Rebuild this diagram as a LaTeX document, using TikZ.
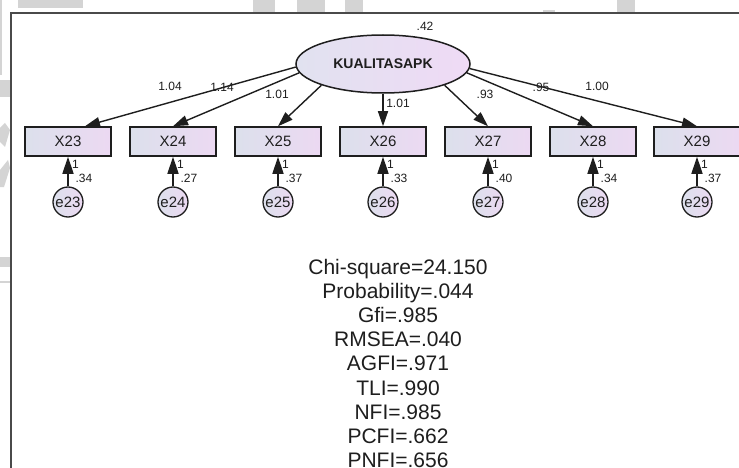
\documentclass[tikz,border=0pt]{standalone}
\usepackage{fontspec}
\setmainfont{Liberation Sans}
\usetikzlibrary{arrows.meta,shapes.geometric}
\definecolor{inkc}{HTML}{1E1E1E}
\definecolor{framec}{HTML}{4A4A4A}
\definecolor{markc}{HTML}{D4D4D4}
\definecolor{boxl}{HTML}{DCE0EC}
\definecolor{boxr}{HTML}{ECD9F2}
\definecolor{elll}{HTML}{E1E2F0}
\definecolor{ellr}{HTML}{EFDAF5}
\tikzset{
  obsbox/.style={draw=inkc, line width=1.5pt, left color=boxl, right color=boxr,
    minimum width=86pt, minimum height=29pt, inner sep=0pt,
    font=\fontsize{15}{17}\selectfont, text=inkc},
  errcirc/.style={circle, draw=inkc, line width=1.3pt, left color=boxl, right color=boxr,
    minimum size=30pt, inner sep=0pt, font=\fontsize{15}{17}\selectfont, text=inkc},
  latent/.style={ellipse, draw=inkc, line width=1.5pt, left color=elll, right color=ellr,
    minimum width=174pt, minimum height=58pt, inner sep=0pt,
    font=\bfseries\fontsize{14}{16}\selectfont, text=inkc},
  loadarrow/.style={draw=inkc, line width=1.4pt, -{Triangle[length=15pt,width=10pt]}},
  errarrow/.style={draw=inkc, line width=1.4pt, -{Triangle[length=17pt,width=11pt]}},
  estlabel/.style={font=\fontsize{12}{14}\selectfont, text=inkc, inner sep=0pt},
  fitline/.style={font=\fontsize{21}{24}\selectfont, text=inkc, inner sep=0pt, anchor=base},
  wmark/.style={fill=markc, draw=none}
}
\begin{document}
\begin{tikzpicture}[x=1pt, y=-1pt]
  \useasboundingbox (0,0) rectangle (739,468);
  \fill[white] (0,0) rectangle (739,468);

  % faint background marks around the frame
  \fill[wmark] (18,0) rectangle (83,8);
  \fill[wmark] (253,0) rectangle (275,13);
  \fill[wmark] (297,0) rectangle (325,13);
  \fill[wmark] (345,0) rectangle (363,13);
  \fill[wmark] (543,10) rectangle (555,13);
  \fill[wmark] (617,0) rectangle (635,13);
  \fill[wmark] (0,0) rectangle (2,75);
  \fill[wmark] (0,80) rectangle (10,97);
  \fill[wmark] (0,128) -- (5,123) -- (10,130) -- (5,147) -- (0,142) -- cycle;
  \fill[wmark] (0,170) -- (8,160) -- (10,168) -- (4,187) -- (0,187) -- cycle;
  \fill[wmark] (0,257) rectangle (10,267);
  \fill[wmark] (0,281) rectangle (11,283);

  % drawing frame
  \draw[framec, line width=1.5pt] (11,468) -- (11,13) -- (739,13);

  % latent variable
  \node[latent] (K) at (383,64) {KUALITASAPK};
  \node[estlabel] (kvar) at (425,26) {.42};

  % observed indicators and their error terms
  \foreach \i/\x/\ev in {23/68/.34, 24/173/.27, 25/278/.37, 26/383/.33, 27/488/.40, 28/593/.34, 29/697/.37} {
    \node[obsbox] (X\i) at (\x,141.5) {X\i};
    \node[errcirc] (e\i) at (\x,202) {e\i};
    \draw[errarrow] (e\i) -- (X\i);
    \node[estlabel] (w\i) at (\x+7.5,164) {1};
    \node[estlabel] (v\i) at (\x+16,178) {\ev};
  }

  % end points of the loading arrows on the box tops
  \coordinate (t23) at ([xshift=17pt]X23.north);
  \draw[loadarrow] (K.182) -- (t23);
  \draw[loadarrow] (K.186) -- (X24.north);
  \draw[loadarrow] (K.199) -- (X25.north);
  \draw[loadarrow] (K.270) -- (X26.north);
  \draw[loadarrow] (K.341) -- (X27.north);
  \draw[loadarrow] (K.354) -- (X28.north);
  \draw[loadarrow] (K.357) -- (X29.north);

  % factor loadings
  \node[estlabel] (l23) at (170,86) {1.04};
  \node[estlabel] (l24) at (222,87) {1.14};
  \node[estlabel] (l25) at (277,94) {1.01};
  \node[estlabel] (l26) at (398,103) {1.01};
  \node[estlabel] (l27) at (485,94) {.93};
  \node[estlabel] (l28) at (541,87) {.95};
  \node[estlabel] (l29) at (597,86) {1.00};

  % model fit summary
  \foreach \t [count=\n from 0] in {Chi-square=24.150, Probability=.044, Gfi=.985,
      RMSEA=.040, AGFI=.971, TLI=.990, NFI=.985, PCFI=.662, PNFI=.656} {
    \node[fitline] (fit\n) at (398,274.5+24.1*\n) {\t};
  }
\end{tikzpicture}
\end{document}
